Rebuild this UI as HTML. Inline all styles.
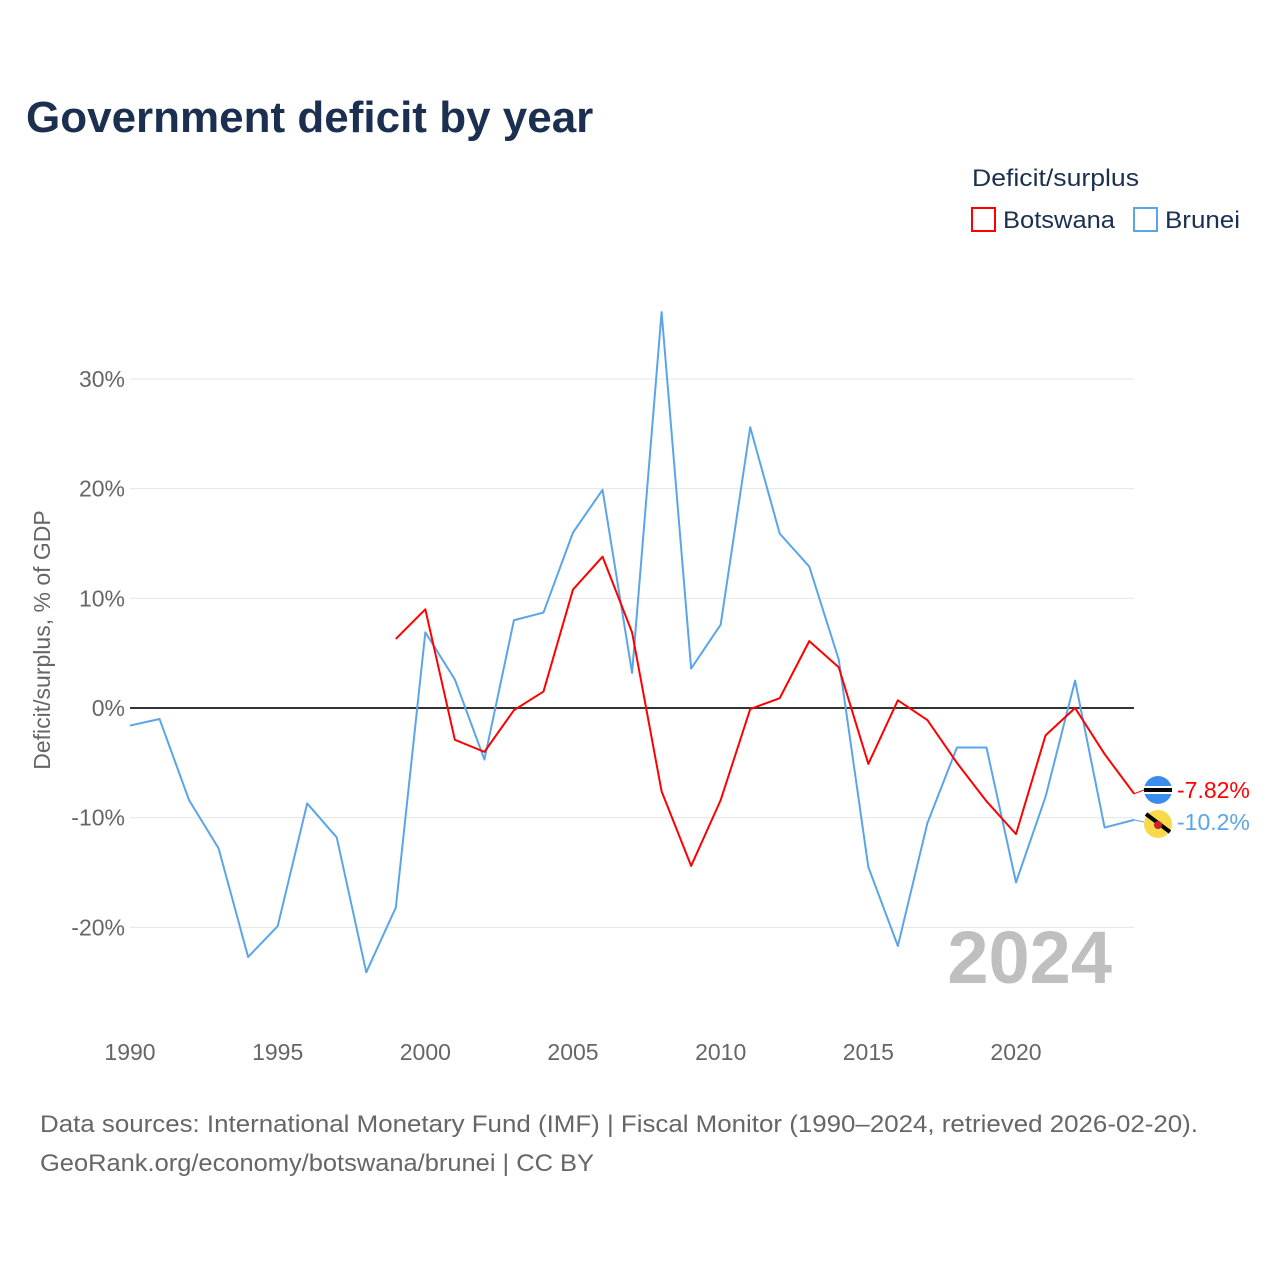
<!DOCTYPE html>
<html><head><meta charset="utf-8"><style>
body{margin:0;background:#fff;font-family:"Liberation Sans",sans-serif;}
</style></head><body>
<svg id="c" width="1280" height="1280" xmlns="http://www.w3.org/2000/svg" font-family="Liberation Sans, sans-serif">
<text x="26" y="132" font-size="44" font-weight="bold" fill="#1b3050">Government deficit by year</text>
<text x="972" y="186" font-size="24" fill="#1b3050" textLength="167" lengthAdjust="spacingAndGlyphs">Deficit/surplus</text>
<rect x="972" y="208" width="23" height="23" fill="none" stroke="#ff0000" stroke-width="2"/>
<text x="1003" y="228" font-size="24" fill="#1b3050" textLength="112" lengthAdjust="spacingAndGlyphs">Botswana</text>
<rect x="1134" y="208" width="23" height="23" fill="none" stroke="#5aa5ea" stroke-width="2"/>
<text x="1165" y="228" font-size="24" fill="#1b3050" textLength="75" lengthAdjust="spacingAndGlyphs">Brunei</text>
<text transform="translate(50,640) rotate(-90)" text-anchor="middle" font-size="23" fill="#666">Deficit/surplus, % of GDP</text>
<g id="grid"></g>
<text x="1112" y="983" text-anchor="end" font-size="74" font-weight="bold" fill="#bfbfbf">2024</text>
<g id="marks"></g>
<text x="40" y="1132" font-size="24" fill="#666" textLength="1158" lengthAdjust="spacingAndGlyphs">Data sources: International Monetary Fund (IMF) | Fiscal Monitor (1990–2024, retrieved 2026-02-20).</text>
<text x="40" y="1171" font-size="24" fill="#666" textLength="554" lengthAdjust="spacingAndGlyphs">GeoRank.org/economy/botswana/brunei | CC BY</text>
</svg>
<script>
const bruneiYears=[1990,1991,1992,1993,1994,1995,1996,1997,1998,1999,2000,2001,2002,2003,2004,2005,2006,2007,2008,2009,2010,2011,2012,2013,2014,2015,2016,2017,2018,2019,2020,2021,2022,2023,2024];
const bruneiValues=[-1.6,-1.0,-8.4,-12.8,-22.7,-19.9,-8.7,-11.8,-24.1,-18.2,6.9,2.6,-4.7,8.0,8.7,16.0,19.9,3.2,36.1,3.6,7.6,25.6,15.9,12.9,4.4,-14.5,-21.7,-10.5,-3.6,-3.6,-15.9,-8.1,2.5,-10.9,-10.2];
const botswanaYears=[1999,2000,2001,2002,2003,2004,2005,2006,2007,2008,2009,2010,2011,2012,2013,2014,2015,2016,2017,2018,2019,2020,2021,2022,2023,2024];
const botswanaValues=[6.3,9.0,-2.9,-4.0,-0.2,1.5,10.8,13.8,6.9,-7.6,-14.4,-8.4,-0.1,0.9,6.1,3.7,-5.1,0.7,-1.1,-5.0,-8.5,-11.5,-2.5,0.0,-4.2,-7.82];
const yTicks=[-20,-10,0,10,20,30];
const xTicks=[1990,1995,2000,2005,2010,2015,2020];
const NS="http://www.w3.org/2000/svg";
const x=yr=>130+(yr-1990)*(1016-130)/30;
const y=v=>708-v*(708-379)/30;
function mk(tag,attrs,parent){const e=document.createElementNS(NS,tag);for(const k in attrs)e.setAttribute(k,attrs[k]);parent.appendChild(e);return e;}
const grid=document.getElementById('grid'),marks=document.getElementById('marks');
yTicks.forEach(t=>{
  const l=mk('line',{x1:130,x2:1134,y1:y(t),y2:y(t),stroke:t===0?'#333':'#e6e6e6','stroke-width':t===0?2:1},grid);
  
  
  const tx=mk('text',{x:125,y:y(t)+8,'text-anchor':'end','font-size':23,fill:'#666'},grid);
  tx.textContent=t+'%';
  
  
});
xTicks.forEach(t=>{
  const tx=mk('text',{x:x(t),y:1060,'text-anchor':'middle','font-size':23,fill:'#666'},grid);
  tx.textContent=t;
  
  
});
function line(ys,vs,color,name){
  const p=mk('polyline',{points:ys.map((yr,i)=>x(yr)+','+y(vs[i])).join(' '),fill:'none',stroke:color,'stroke-width':2,'stroke-linejoin':'round'},marks);
  
  
}
line(bruneiYears,bruneiValues,'#5aa5ea','brunei-line');
line(botswanaYears,botswanaValues,'#ff0000','botswana-line');
const bv=botswanaValues[botswanaValues.length-1], rv=bruneiValues[bruneiValues.length-1];
const g1=mk('g',{},marks);


mk('line',{x1:x(2024),y1:y(bv),x2:1144,y2:790,stroke:'#ff0000','stroke-width':1},g1);
mk('circle',{cx:1158,cy:790,r:14,fill:'#3a8ded'},g1);
mk('rect',{x:1144,y:786,width:28,height:8,fill:'#fff'},g1);
mk('rect',{x:1144,y:788,width:28,height:4,fill:'#000'},g1);
const t1=mk('text',{x:1177,y:798,'font-size':23,fill:'#ff0000'},g1);t1.textContent=bv+'%';
const g2=mk('g',{},marks);


mk('line',{x1:x(2024),y1:y(rv),x2:1144,y2:822,stroke:'#5aa5ea','stroke-width':1},g2);
mk('circle',{cx:1158,cy:824,r:14,fill:'#f7d94a'},g2);
mk('line',{x1:1146,y1:814,x2:1170,y2:832,stroke:'#000','stroke-width':4},g2);
mk('circle',{cx:1158,cy:825,r:4,fill:'#cc1f2f'},g2);
const t2=mk('text',{x:1177,y:830,'font-size':23,fill:'#5aa5ea'},g2);t2.textContent=rv+'%';
</script>
</body></html>
